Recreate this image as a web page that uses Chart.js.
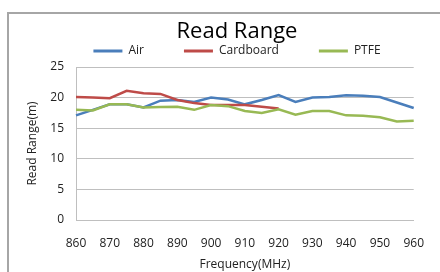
<!DOCTYPE html>
<html>
<head>
<meta charset="utf-8">
<script src="https://cdn.jsdelivr.net/npm/chart.js@4"></script>
<style>
  html, body { margin: 0; padding: 0; background: #fff; overflow: hidden; }
  #wrap { position: relative; width: 440px; height: 272px; }
  #frame {
    position: absolute; left: 7px; top: 12px; width: 460px; height: 300px;
    border: 2px solid #a6a6a6; pointer-events: none;
  }
</style>
</head>
<body>
<div id="wrap">
  <canvas id="chart" width="440" height="272"></canvas>
  <div id="frame"></div>
</div>
<script>
// Read range per frequency
const frequencies = ["860", "865", "870", "875", "880", "885", "890", "895", "900", "905",
  "910", "915", "920", "925", "930", "935", "940", "945", "950", "955", "960"];
const airRange = [17.1, 18.0, 18.9, 18.9, 18.4, 19.5, 19.6, 19.3, 20.0, 19.7,
  18.9, 19.6, 20.4, 19.3, 20.0, 20.1, 20.4, 20.3, 20.1, 19.2, 18.3];
const cardboardRange = [20.1, 20.0, 19.9, 21.1, 20.7, 20.6, 19.6, 19.1, 18.8, 18.8,
  18.8, 18.5, 18.2, null, null, null, null, null, null, null, null];
const ptfeRange = [18.0, 17.9, 18.9, 18.9, 18.4, 18.45, 18.5, 18.0, 18.8, 18.6,
  17.8, 17.5, 18.1, 17.2, 17.8, 17.8, 17.1, 17.05, 16.8, 16.1, 16.2];
const seriesNames = ["Air", "Cardboard", "PTFE"];
const seriesColors = ["#4a7ebb", "#be4b48", "#98b954"];

const FONT = "'Open Sans', 'DejaVu Sans', sans-serif";
const GRID = "#bfbfbf";

function lineSet(i, data) {
  return {
    label: seriesNames[i],
    data: data,
    borderColor: seriesColors[i],
    backgroundColor: seriesColors[i],
    borderWidth: 2.5,
    pointRadius: 0,
    tension: 0,
    order: 3 - i, // later series on top, like Excel
  };
}

const ctx = document.getElementById("chart").getContext("2d");
new Chart(ctx, {
  type: "line",
  data: {
    labels: frequencies,
    datasets: [
      lineSet(0, airRange),
      lineSet(1, cardboardRange),
      lineSet(2, ptfeRange),
    ],
  },
  options: {
    responsive: false,
    animation: false,
    layout: { padding: { left: 43, right: 9, top: 5, bottom: 0 } },
    plugins: {
      tooltip: { enabled: false },
      title: {
        display: true,
        text: "Read Range",
        color: "#000",
        font: { family: FONT, size: 22, weight: "normal", lineHeight: 1 },
        padding: { top: -46, bottom: 24 },
      },
      legend: {
        display: true,
        position: "top",
        weight: 3000,
        labels: {
          color: "#222",
          font: { family: FONT, size: 12 },
          boxWidth: 29,
          boxHeight: 3,
          padding: 40,
          sort: (a, b) => a.datasetIndex - b.datasetIndex,
          generateLabels: (chart) =>
            Chart.defaults.plugins.legend.labels
              .generateLabels(chart)
              .map((l) => ({ ...l, lineWidth: 0 })),
        },
      },
    },
    scales: {
      x: {
        afterFit: (scale) => { scale.height = 52; },
        ticks: {
          color: "#222",
          font: { family: FONT, size: 12 },
          padding: 16,
          autoSkip: false,
          maxRotation: 0,
          callback: (v, i) => (i % 2 === 0 ? frequencies[i] : ""),
        },
        grid: { display: false, drawTicks: false },
        border: { display: true, color: GRID, width: 1 },
        title: {
          display: true,
          text: "Frequency(MHz)",
          color: "#222",
          font: { family: FONT, size: 12 },
          padding: { top: 0, bottom: 0 },
        },
      },
      y: {
        min: 0,
        max: 25,
        afterFit: (scale) => { scale.width = 33; },
        ticks: {
          stepSize: 5,
          color: "#222",
          font: { family: FONT, size: 12 },
          padding: 12,
        },
        grid: { color: GRID, lineWidth: 1, drawTicks: false },
        border: { display: true, color: GRID, width: 1 },
        title: {
          display: true,
          text: "Read Range(m)",
          color: "#222",
          font: { family: FONT, size: 12 },
          padding: { top: -18, bottom: 0 },
        },
      },
    },
  },
});
</script>
</body>
</html>
